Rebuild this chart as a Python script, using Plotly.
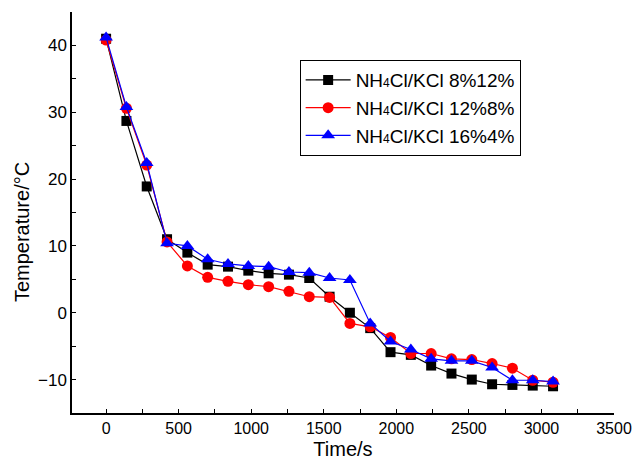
import plotly.graph_objects as go

# Sampling times (s)
time_s = [0, 140, 280, 420, 560, 700, 840, 980, 1120, 1260, 1400, 1540,
          1680, 1820, 1960, 2100, 2240, 2380, 2520, 2660, 2800, 2940, 3080]

# Temperature (°C) for each salt ratio
temp_8_12 = [41.0, 28.7, 18.9, 11.0, 9.0, 7.2, 6.9, 6.3, 5.9, 5.7, 5.2, 2.4,
             0.0, -2.3, -5.9, -6.3, -7.9, -9.1, -10.0, -10.7, -10.8, -10.9, -11.0]
temp_12_8 = [40.8, 30.6, 22.1, 10.6, 7.0, 5.3, 4.7, 4.2, 3.9, 3.2, 2.4, 2.3,
             -1.6, -2.1, -3.7, -6.1, -6.1, -6.9, -7.0, -7.6, -8.3, -10.1, -10.4]
temp_16_4 = [41.2, 30.8, 22.4, 10.4, 10.0, 8.0, 7.3, 7.0, 6.9, 6.1, 6.0, 5.2,
             4.9, -1.6, -4.3, -5.5, -6.9, -7.2, -7.2, -8.2, -10.1, -10.1, -10.3]

series_names = [
    'NH<span style="font-size:12px">4</span>Cl/KCl 8%12%',
    'NH<span style="font-size:12px">4</span>Cl/KCl 12%8%',
    'NH<span style="font-size:12px">4</span>Cl/KCl 16%4%',
]

x_ticks = [0, 500, 1000, 1500, 2000, 2500, 3000, 3500]
y_ticks = [-10, 0, 10, 20, 30, 40]

fig = go.Figure()
styles = [
    (temp_8_12, "black", "square", 10),
    (temp_12_8, "#ff0000", "circle", 11),
    (temp_16_4, "#0000ff", "triangle-up", 12),
]
for name, (vals, color, symbol, size) in zip(series_names, styles):
    fig.add_trace(go.Scatter(
        x=time_s, y=vals, name=name, mode="lines+markers",
        line=dict(color=color, width=1.2),
        marker=dict(color=color, symbol=symbol, size=size),
    ))

font_family = "Liberation Sans, Arial, sans-serif"

fig.update_layout(
    width=632, height=463,
    margin=dict(l=72, r=18, t=12, b=50),
    paper_bgcolor="white", plot_bgcolor="white",
    font=dict(family=font_family, size=17, color="black"),
    showlegend=True,
    legend=dict(
        x=0.42, y=0.88, xanchor="left", yanchor="top",
        bgcolor="white", bordercolor="black", borderwidth=1,
        font=dict(size=19), itemwidth=45, tracegroupgap=0,
    ),
    xaxis=dict(
        range=[-235, 3500], tickvals=x_ticks,
        tickfont=dict(size=16),
        showline=True, linecolor="black", linewidth=1.5,
        ticks="inside", ticklen=4, tickcolor="black",
        minor=dict(ticks="inside", dtick=250, ticklen=4, tickcolor="black"),
        showgrid=False, zeroline=False,
        title=dict(text="Time/s", font=dict(size=20), standoff=6),
        automargin=False,
    ),
    yaxis=dict(
        range=[-15, 45], tickvals=y_ticks,
        showline=True, linecolor="black", linewidth=1.5,
        ticks="inside", ticklen=4, tickcolor="black",
        minor=dict(ticks="inside", dtick=5, ticklen=4, tickcolor="black"),
        showgrid=False, zeroline=False,
        automargin=False,
    ),
    annotations=[dict(
        text="Temperature/°C", textangle=-90,
        xref="paper", yref="paper", x=-0.0923, y=0.451,
        xanchor="center", yanchor="middle", showarrow=False,
        font=dict(size=20),
    )],
)

fig.write_html("out.html")
